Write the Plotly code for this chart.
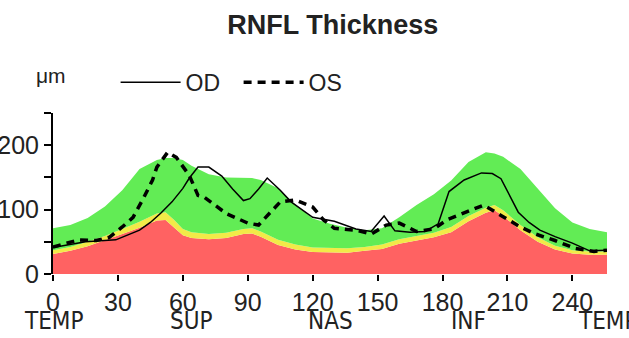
import plotly.graph_objects as go

# normative bands (um) sampled along the scan angle
band_x = [0, 8, 16, 24, 32, 40, 48, 52, 56, 60, 64, 72, 80, 88, 92, 96, 104, 112, 120,
          128, 136, 144, 152, 160, 168, 176, 184, 192, 200, 204, 208, 216, 224, 232, 240, 248, 256]
red_top = [31, 36, 43, 52, 62, 72, 83, 84, 72, 60, 56, 54, 56, 62, 63, 58, 45, 38, 34,
           33, 33, 36, 39, 47, 52, 57, 65, 82, 95, 99, 90, 68, 50, 38, 32, 30, 30]
yellow_top = [37, 42, 50, 59, 70, 81, 94, 96, 84, 70, 65, 62, 64, 70, 71, 66, 53, 46, 41,
              40, 40, 42, 46, 54, 59, 64, 73, 90, 103, 107, 99, 76, 57, 44, 37, 35, 35]
green_top = [71, 76, 87, 105, 130, 163, 177, 180, 180, 177, 168, 155, 150, 149, 149, 146, 133, 108, 86,
             78, 72, 68, 71, 88, 107, 124, 145, 174, 189, 187, 182, 163, 133, 102, 80, 70, 65]

od_x = [0, 8, 15, 29, 40, 45, 50, 55, 60, 63, 67, 72, 78, 83, 88, 91, 95, 99, 105, 110, 120,
        130, 140, 147, 153, 158, 165, 172, 178, 183, 190, 198, 203, 207, 210, 215, 220, 225, 232, 240, 248, 256]
od_y = [41, 46, 50, 53, 68, 80, 95, 112, 133, 149, 166, 166, 152, 132, 114, 117, 132, 149, 130, 112, 88,
        82, 70, 66, 90, 67, 65, 66, 78, 128, 146, 157, 156, 148, 128, 96, 80, 68, 58, 48, 36, 37]

os_x = [0, 12, 20, 26, 32, 37, 42, 46, 48, 53, 57, 63, 67, 70, 80, 90, 95, 100, 105, 112, 120,
        125, 130, 140, 147, 154, 160, 168, 176, 182, 189, 199, 208, 216, 223, 232, 241, 250, 256]
os_y = [42, 53, 52, 57, 73, 88, 119, 146, 166, 189, 181, 153, 122, 119, 94, 79, 76, 94, 112, 115, 104,
        84, 71, 68, 62, 76, 79, 66, 70, 84, 94, 107, 89, 73, 62, 52, 40, 35, 37]

x_ticks = [0, 30, 60, 90, 120, 150, 180, 210, 240]
region_x = [0, 64, 128, 192, 256]
region_labels = ["TEMP", "SUP", "NAS", "INF", "TEMP"]
y_ticks = [0, 50, 100, 150, 200, 250]
y_labels = ["0", "", "100", "", "200", ""]

fig = go.Figure()
fig.add_trace(go.Scatter(x=band_x, y=red_top, mode='lines', line=dict(width=0),
                         fill='tozeroy', fillcolor='#FF6262', showlegend=False, hoverinfo='skip'))
fig.add_trace(go.Scatter(x=band_x, y=yellow_top, mode='lines', line=dict(width=0),
                         fill='tonexty', fillcolor='#F2EA48', showlegend=False, hoverinfo='skip'))
fig.add_trace(go.Scatter(x=band_x, y=green_top, mode='lines', line=dict(width=0),
                         fill='tonexty', fillcolor='#62EC55', showlegend=False, hoverinfo='skip'))
fig.add_trace(go.Scatter(x=od_x, y=od_y, mode='lines', name='OD',
                         line=dict(color='black', width=1.5)))
fig.add_trace(go.Scatter(x=os_x, y=os_y, mode='lines', name='OS',
                         line=dict(color='black', width=3.5, dash='8px,6px')))

for xv, lab in zip(region_x, region_labels):
    fig.add_annotation(x=xv, y=-0.29, xref='x', yref='paper', text=lab, showarrow=False,
                       xanchor='center', yanchor='middle',
                       font=dict(family='Liberation Sans Narrow, DejaVu Sans Condensed, Arial', size=24, color='#222'))
fig.add_annotation(x=-0.004, y=1.236, xref='paper', yref='paper', text='μm', showarrow=False,
                   xanchor='center', yanchor='middle', font=dict(family='Arial', size=21, color='#222'))

fig.update_layout(
    width=629, height=338,
    margin=dict(l=53, r=22, t=113, b=64, autoexpand=False),
    paper_bgcolor='white', plot_bgcolor='white',
    title=dict(text='<b>RNFL Thickness</b>', x=0.505, xref='paper', y=1 - 25 / 338, yanchor='middle',
               xanchor='center', font=dict(family='Arial', size=27, color='#222')),
    legend=dict(orientation='h', x=0.113, xanchor='left', y=1.19, yanchor='middle', traceorder='normal',
                font=dict(family='Arial', size=23, color='#222'), bgcolor='rgba(0,0,0,0)',
                itemwidth=60, entrywidth=48, entrywidthmode='pixels'),
    xaxis=dict(range=[0, 256], tickvals=x_ticks, ticks='outside', ticklen=6, tickcolor='black',
               tickwidth=2, showline=False, showgrid=False, zeroline=False, automargin=False,
               tickfont=dict(family='Arial', size=25, color='#222')),
    yaxis=dict(range=[0, 250], tickvals=y_ticks, ticktext=y_labels, ticks='outside', ticklen=7,
               tickcolor='black', tickwidth=2, showline=True, linecolor='black', linewidth=2,
               showgrid=False, zeroline=False, automargin=False,
               tickfont=dict(family='Arial', size=25, color='#222')),
    yaxis2=dict(range=[0, 250], overlaying='y', side='left', tickvals=y_ticks, ticks='inside',
                ticklen=7, tickcolor='black', tickwidth=2, showticklabels=False, showgrid=False,
                zeroline=False, showline=False, automargin=False),
)
# drop the browser's default body margin so the figure sits at the page corner
fig.write_html("out.html", config={'displayModeBar': False},
               post_script="document.body.style.margin='0';")
